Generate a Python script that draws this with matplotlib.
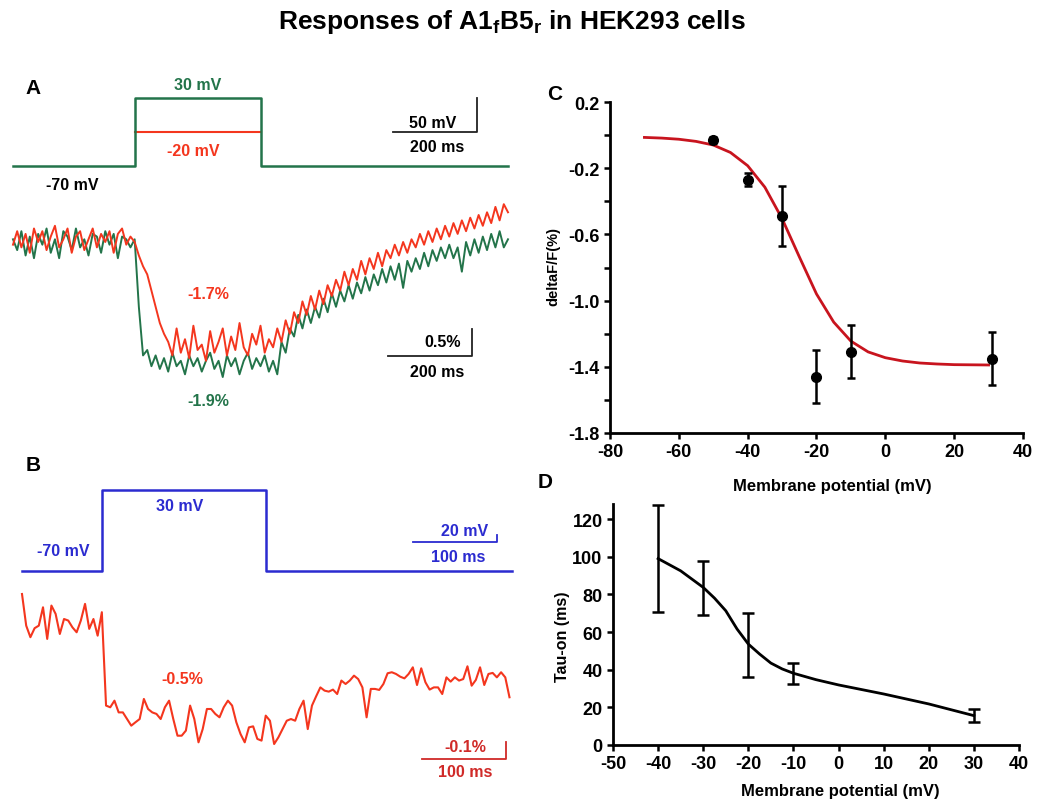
import numpy as np
import matplotlib
matplotlib.use('Agg')
import matplotlib.pyplot as plt
from matplotlib.ticker import FixedLocator

plt.rcParams['font.family'] = ['Liberation Sans', 'DejaVu Sans']
plt.rcParams['font.weight'] = 'bold'
plt.rcParams['axes.unicode_minus'] = False
plt.rcParams['mathtext.fontset'] = 'custom'
plt.rcParams['mathtext.rm'] = 'Liberation Sans:bold'
plt.rcParams['mathtext.bf'] = 'Liberation Sans:bold'

# ---------------- data ----------------
# panel A : voltage protocol (ms, mV)
stepA_t = [0, 290, 290, 590, 590, 1180]
stepA_green = [-70, -70, 30, 30, -70, -70]
stepA_red_t = [290, 590]
stepA_red = [-20, -20]

# panel A : fluorescence traces, dF/F (%) every 10 ms
tA = np.arange(0, 1181, 10)
traceA_green = [0.05, -0.15, 0.20, -0.25, 0.10, -0.30, 0.15, -0.05, 0.25, -0.20,
                0.05, -0.30, 0.20, 0.10, -0.15, 0.25, -0.10, 0.05, -0.25, 0.15,
                0.10, -0.20, 0.20, -0.05, 0.15, -0.30, 0.10, 0.05, -0.10,
                0.05, -1.20, -2.10,
                -2.00, -2.30, -2.10, -2.35, -2.15, -2.40, -2.05, -2.30, -2.20, -2.45,
                -2.10, -2.30, -2.15, -2.40, -2.20, -2.05, -2.35, -2.20, -2.50, -2.10,
                -2.30, -2.15, -2.45, -2.20, -2.05, -2.35, -2.15, -2.30, -2.10, -2.40,
                -2.20, -2.45,
                -1.85, -2.05, -1.60, -1.75, -1.35, -1.60, -1.25, -1.50, -1.20, -1.40,
                -1.05, -1.30, -0.95, -1.20, -0.90, -1.10, -0.80, -1.05, -0.75, -0.95,
                -0.65, -0.90, -0.60, -0.80, -0.50, -0.75, -0.45, -0.70, -0.40, -0.85,
                -0.35, -0.55, -0.30, -0.50, -0.20, -0.45, -0.15, -0.35, -0.10, -0.30,
                -0.05, -0.30, -0.10, -0.55, 0.00, -0.25, 0.05, -0.20, 0.10, -0.15,
                0.15, -0.10, 0.20, -0.10, 0.05]
traceA_red = [-0.05, 0.20, -0.10, 0.15, -0.20, 0.25, 0.00, 0.20, -0.15, 0.10,
              0.30, -0.10, 0.05, 0.25, -0.20, 0.10, 0.20, -0.15, 0.05, 0.25,
              -0.10, 0.15, 0.00, 0.20, -0.20, 0.15, 0.25, -0.05, 0.10,
              0.00, -0.25, -0.45, -0.60, -0.90, -1.20, -1.50, -1.70,
              -1.85, -2.10, -1.60, -2.05, -1.80, -2.15, -1.55, -2.00, -1.90, -2.20,
              -1.65, -2.05, -1.85, -1.60, -2.10, -1.75, -2.00, -1.50, -1.95, -2.10,
              -1.70, -1.90, -1.55, -2.05, -1.80, -1.95, -1.60, -1.85,
              -1.45, -1.70, -1.30, -1.50, -1.10, -1.35, -1.00, -1.25, -0.90, -1.15,
              -0.80, -1.00, -0.70, -0.90, -0.55, -0.80, -0.50, -0.70, -0.35, -0.60,
              -0.30, -0.50, -0.20, -0.45, -0.15, -0.30, -0.05, -0.25, 0.00, -0.20,
              0.05, -0.10, 0.15, -0.05, 0.20, 0.00, 0.25, 0.05, 0.30, 0.10,
              0.35, 0.15, 0.40, 0.20, 0.45, 0.25, 0.50, 0.30, 0.55, 0.35,
              0.65, 0.40, 0.70, 0.55]

# panel B : voltage protocol and trace (dF/F % every 5 ms)
stepB_t = [0, 95, 95, 290, 290, 583]
stepB_v = [-70, -70, 30, 30, -70, -70]
tB = np.arange(0, 581, 5)
traceB = [0.176, -0.010, -0.078, -0.025, -0.010, 0.098, -0.088, 0.108, 0.059, -0.059,
          0.029, 0.020, -0.020, -0.049, 0.020, 0.118, -0.029, 0.029, -0.069, 0.069,
          -0.480, -0.490, -0.451, -0.520, -0.520, -0.559, -0.598, -0.578, -0.559, -0.441,
          -0.500, -0.520, -0.529, -0.559, -0.490, -0.451, -0.559, -0.657, -0.657, -0.627,
          -0.480, -0.559, -0.696, -0.618, -0.500, -0.500, -0.529, -0.549, -0.490, -0.451,
          -0.480, -0.578, -0.647, -0.696, -0.608, -0.602, -0.676, -0.686, -0.539, -0.569,
          -0.706, -0.667, -0.618, -0.569, -0.559, -0.569, -0.500, -0.451, -0.618, -0.480,
          -0.425, -0.373, -0.392, -0.398, -0.386, -0.412, -0.333, -0.353, -0.333, -0.304,
          -0.324, -0.373, -0.549, -0.382, -0.382, -0.388, -0.353, -0.290, -0.284, -0.294,
          -0.310, -0.320, -0.294, -0.255, -0.359, -0.261, -0.343, -0.386, -0.373, -0.373,
          -0.412, -0.314, -0.339, -0.314, -0.333, -0.324, -0.249, -0.363, -0.329, -0.255,
          -0.359, -0.294, -0.288, -0.314, -0.284, -0.314, -0.431]

# panel C : dF/F vs membrane potential
c_v = [-50, -40, -30, -20, -10, 31]
c_df = [-0.03, -0.27, -0.49, -1.46, -1.31, -1.35]
c_err = [0.02, 0.04, 0.18, 0.16, 0.16, 0.16]
fit_v = [-70, -65, -60, -55, -50, -45, -40, -35, -30, -25, -20, -15, -10, -5,
         0, 5, 10, 15, 20, 25, 30]
fit_df = [-0.014, -0.018, -0.025, -0.038, -0.060, -0.105, -0.185, -0.315, -0.505,
          -0.735, -0.960, -1.130, -1.245, -1.310, -1.345, -1.365, -1.377, -1.383,
          -1.387, -1.388, -1.389]

# panel D : tau-on vs membrane potential
d_v = [-40, -30, -20, -10, 30]
d_tau = [99, 83.5, 53, 38, 15.5]
d_err = [28.5, 14.3, 17, 5.7, 3.5]
d_line_v = [-40, -35, -30, -27.5, -25, -22.5, -20, -17.5, -15, -12.5, -10, -5,
            0, 10, 20, 30]
d_line_tau = [99, 92.5, 83.7, 78, 71.3, 61.6, 53.6, 48.3, 43.5, 40.4, 38.1, 34.7,
              31.9, 27.1, 21.8, 15.6]

green = '#23744a'
red = '#f4361e'
blue = '#2b2bd0'
fitred = '#c8141e'

W, H = 1050, 812
fig = plt.figure(figsize=(W / 100, H / 100), dpi=100)


def box(x0, y0, x1, y1):
    return fig.add_axes([x0 / W, 1 - y1 / H, (x1 - x0) / W, (y1 - y0) / H])


def label(x, y, s, **kw):
    kw.setdefault('fontsize', 11.5)
    fig.text(x / W, 1 - y / H, s, ha='center', va='center', fontweight='bold', **kw)


label(512, 22, r'Responses of A1$_{\rm f}$B5$_{\rm r}$ in HEK293 cells', fontsize=19)

# ----- A voltage -----
ax = box(13, 99, 508, 167)
ax.axis('off')
ax.set_xlim(0, 1180)
ax.set_ylim(-70, 30)
ax.plot(stepA_red_t, stepA_red, color=red, lw=1.5, clip_on=False)
ax.plot(stepA_t, stepA_green, color=green, lw=1.8, clip_on=False)
ax.plot([905, 1105, 1105], [-20, -20, 30], color='#222222', lw=1.3, clip_on=False)
label(33, 88, 'A', fontsize=15)
label(198, 85, '30 mV', color=green)
label(193, 152, '-20 mV', color=red)
label(72, 185, '-70 mV')
label(433, 123, '50 mV')
label(437, 147, '200 ms')

# ----- A traces -----
ax = box(13, 200, 508, 400)
ax.axis('off')
ax.set_xlim(0, 1180)
ax.set_ylim(-2.907, 0.796)
ax.plot(tA, traceA_green, color=green, lw=1.4, clip_on=False)
ax.plot(tA, traceA_red, color=red, lw=1.4, clip_on=False)
ax.plot([893, 1093, 1093], [-2.11, -2.11, -1.61], color='#222222', lw=1.3, clip_on=False)
label(208, 295, '-1.7%', color=red)
label(208, 402, '-1.9%', color=green)
label(443, 343, '0.5%')
label(437, 373, '200 ms')

# ----- B voltage -----
ax = box(22, 491, 512, 572)
ax.axis('off')
ax.set_xlim(0, 583)
ax.set_ylim(-70, 30)
ax.plot(stepB_t, stepB_v, color=blue, lw=1.8, clip_on=False)
ax.plot([465, 565, 565], [-34, -34, -26], color=blue, lw=1.3, clip_on=False)
label(33, 466, 'B', fontsize=15)
label(63, 552, '-70 mV', color=blue)
label(180, 507, '30 mV', color=blue)
label(465, 532, '20 mV', color=blue)
label(458, 558, '100 ms', color=blue)

# ----- B trace -----
ax = box(22, 595, 512, 760)
ax.axis('off')
ax.set_xlim(0, 583)
ax.set_ylim(-0.794, 0.176)
ax.plot(tB, traceB, color=red, lw=1.5, clip_on=False)
ax.plot([476, 576, 576], [-0.794, -0.794, -0.694], color='#d02a28', lw=1.3, clip_on=False)
label(182, 680, '-0.5%', color=red)
label(465, 748, '-0.1%', color='#d02a28')
label(465, 773, '100 ms', color='#d02a28')

# ----- C -----
ax = box(610, 103, 1023, 434)
ax.set_xlim(-80, 40)
ax.set_ylim(-1.8, 0.2)
ax.plot(fit_v, fit_df, color=fitred, lw=2)
ax.errorbar(c_v, c_df, yerr=c_err, fmt='o', color='black', ms=7, capsize=3,
            elinewidth=1.8, capthick=1.8, clip_on=False)
ax.xaxis.set_major_locator(FixedLocator([-80, -60, -40, -20, 0, 20, 40]))
ax.yaxis.set_major_locator(FixedLocator([-1.8, -1.4, -1.0, -0.6, -0.2, 0.2]))
ax.yaxis.set_minor_locator(FixedLocator([-1.6, -1.2, -0.8, -0.4, 0.0]))
ax.set_yticklabels(['-1.8', '-1.4', '-1.0', '-0.6', '-0.2', '0.2'])
label(555, 95, 'C', fontsize=15)
label(553, 267, 'deltaF/F(%)', rotation=90, fontsize=10.5)
label(832, 487, 'Membrane potential (mV)', fontsize=12)

# ----- D -----
ax2 = box(613, 505, 1019, 746)
ax2.set_xlim(-50, 40)
ax2.set_ylim(0, 128)
ax2.plot(d_line_v, d_line_tau, color='black', lw=2)
ax2.errorbar(d_v, d_tau, yerr=d_err, fmt='none', ecolor='black', capsize=4,
             elinewidth=1.8, capthick=1.8, clip_on=False)
ax2.xaxis.set_major_locator(FixedLocator(list(range(-50, 41, 10))))
ax2.yaxis.set_major_locator(FixedLocator(list(range(0, 121, 20))))
label(545, 483, 'D', fontsize=15)
label(563, 637, 'Tau-on (ms)', rotation=90, fontsize=11.5)
label(840, 792, 'Membrane potential (mV)', fontsize=12)

for a in (ax, ax2):
    for s in ('top', 'right'):
        a.spines[s].set_visible(False)
    for s in ('left', 'bottom'):
        a.spines[s].set_linewidth(2)
    a.tick_params(which='both', direction='out', length=4, width=1.8, labelsize=13)
    for t in a.get_xticklabels() + a.get_yticklabels():
        t.set_fontweight('bold')

fig.savefig('out.png', dpi=100)
